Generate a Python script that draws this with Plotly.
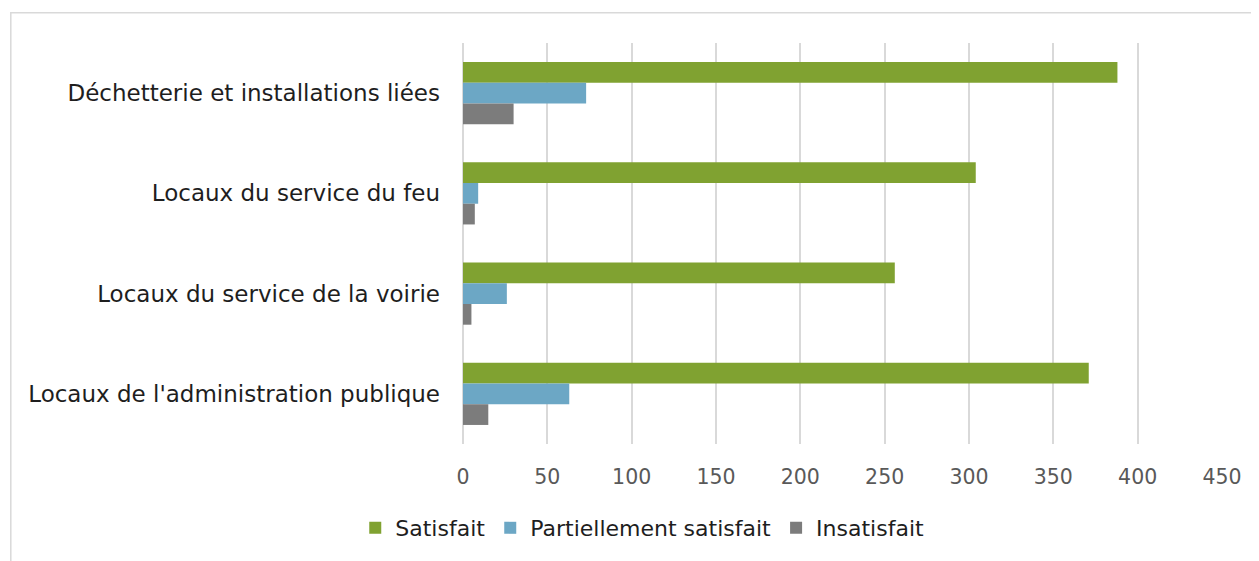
import plotly.graph_objects as go

categories = [
    "Déchetterie et installations liées",
    "Locaux du service du feu",
    "Locaux du service de la voirie",
    "Locaux de l'administration publique",
]
satisfait = [388, 304, 256, 371]
partiellement = [73, 9, 26, 63]
insatisfait = [30, 7, 5, 15]
x_ticks = [0, 50, 100, 150, 200, 250, 300, 350, 400, 450]

series = [
    ("Satisfait", satisfait, "#80A231"),
    ("Partiellement satisfait", partiellement, "#6CA7C5"),
    ("Insatisfait", insatisfait, "#7C7C7C"),
]

fig = go.Figure()
for name, vals, col in series:
    fig.add_trace(go.Bar(
        y=categories, x=vals, name=name, orientation="h",
        marker=dict(color=col, line=dict(width=0)),
    ))

# page body has an 8px margin, so the figure is drawn 8px in from the window edge
OFF = 8
W, H = 1251, 553
ml = 462.7 - OFF
mt = 42.7 - OFF
pr = 1221.7 - OFF
pb = 444 - OFF
mr = W - pr
mb = H - pb
pw, ph = pr - ml, pb - mt

def px_x(p):
    return (p - OFF - ml) / pw

def px_y(p):
    return (pb - (p - OFF)) / ph

FONT = "'DejaVu Sans', sans-serif"

fig.update_layout(
    width=W, height=H,
    margin=dict(l=ml, r=mr, t=mt, b=mb, pad=0),
    paper_bgcolor="white", plot_bgcolor="white",
    barmode="group", bargap=0.38, bargroupgap=0,
    font=dict(family=FONT, size=19, color="#404040"),
    xaxis=dict(
        range=[0, 450], tickvals=x_ticks, showgrid=True,
        gridcolor="#D9D9D9", gridwidth=1.5, zeroline=True,
        zerolinecolor="#D9D9D9", zerolinewidth=1.5,
        ticks="", ticklabelstandoff=18,
        tickfont=dict(family=FONT, size=20.5, color="#595959"), showline=False,
    ),
    yaxis=dict(
        autorange="reversed", showgrid=False, zeroline=False,
        ticks="", ticklabelstandoff=22,
        tickfont=dict(family=FONT, size=23, color="#1E1E1E"),
    ),
    legend=dict(
        orientation="h", xref="container", yref="container",
        x=0.507, xanchor="center", y=33 / H, yanchor="middle",
        font=dict(family=FONT, size=22, color="#1E1E1E"),
        itemwidth=30, tracegroupgap=0,
    ),
    shapes=[dict(
        type="rect", xref="paper", yref="paper",
        x0=px_x(10.5), x1=px_x(1300), y0=px_y(620), y1=px_y(12.5),
        line=dict(color="#D9D9D9", width=1.5), fillcolor="rgba(0,0,0,0)",
        layer="below",
    )],
    showlegend=True,
)

fig.write_html("out.html")
